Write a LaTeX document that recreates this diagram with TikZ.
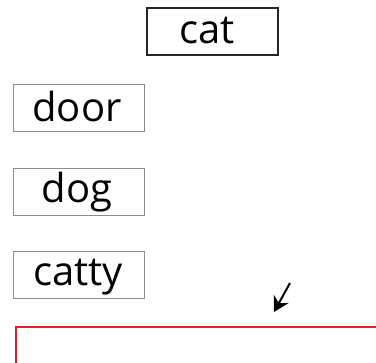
\documentclass[tikz,border=0pt]{standalone}
\usepackage{fontspec}
\setmainfont{Open Sans}
\usetikzlibrary{arrows.meta}
\definecolor{boxred}{RGB}{237,28,36}
\begin{document}
\begin{tikzpicture}[x=1pt,y=-1pt,
  wordbox/.style={draw=black!45, line width=1pt},
  mainbox/.style={draw=black!85, line width=2pt},
  word/.style={anchor=base, inner sep=0pt, font=\fontsize{40}{40}\selectfont}]
\useasboundingbox (0,0) rectangle (376,363);
\begin{scope}
\clip (0,0) rectangle (376,363);
% cat
\draw[mainbox] (146.5,8.5) rectangle (277.5,55.5);
\node[word] (cat) at (207,44) {cat};
% door
\draw[wordbox] (13,85) rectangle (144,132);
\node[word] (door) at (77,122) {door};
% dog
\draw[wordbox] (13,169) rectangle (144,216);
\node[word] (dog) at (77,203) {dog};
% catty
\draw[wordbox] (13,252) rectangle (144,299);
\node[word] (catty) at (78,286) {catty};
% arrow
\coordinate (as) at (290,283);
\coordinate (ae) at (274,312);
\draw[line width=2pt, -{Stealth[length=15pt,width=17pt,inset=5pt]}] (as) -- (ae);
% red box
\draw[boxred, line width=2pt] (15.5,327.5) rectangle (400,400);
\end{scope}
\end{tikzpicture}
\end{document}
